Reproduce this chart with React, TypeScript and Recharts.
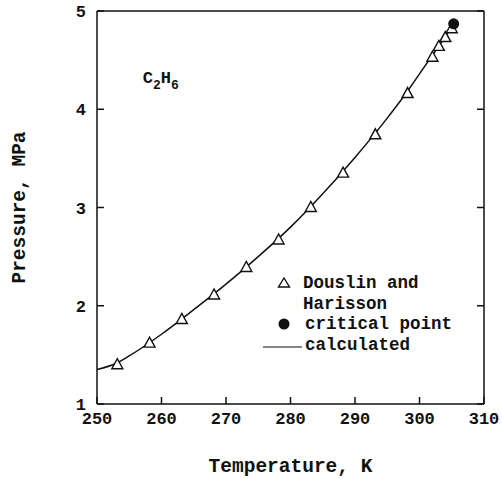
import React from 'react';
import {
  ComposedChart,
  Line,
  Scatter,
  XAxis,
  YAxis,
  Legend,
  ReferenceDot,
} from 'recharts';

const FONT = '"Liberation Mono", "DejaVu Sans Mono", monospace';
const INK = '#111';

// Axis ticks
const temperatureTicks = [250, 260, 270, 280, 290, 300, 310];
const pressureTicks = [1, 2, 3, 4, 5];

// Douslin and Harisson measurements (K, MPa)
const measuredT = [253.15, 258.15, 263.15, 268.15, 273.15, 278.15, 283.15, 288.15, 293.15, 298.15, 302.0, 303.0, 304.0, 305.0];
const measuredP = [1.41, 1.63, 1.87, 2.12, 2.4, 2.68, 3.01, 3.36, 3.75, 4.17, 4.54, 4.65, 4.74, 4.83];

// Critical point of ethane
const criticalT = [305.3];
const criticalP = [4.87];

// Calculated vapour-pressure curve
const calcT = [250, 253.15, 255, 260, 265, 270, 275, 280, 285, 290, 295, 298, 300, 302, 304, 305.3];
const calcP = [1.35, 1.42, 1.49, 1.71, 1.96, 2.22, 2.5, 2.8, 3.14, 3.51, 3.91, 4.17, 4.36, 4.55, 4.74, 4.87];

const measured = measuredT.map((t, i) => ({ t, p: measuredP[i] }));
const critical = criticalT.map((t, i) => ({ t, p: criticalP[i] }));
const calculated = calcT.map((t, i) => ({ t, p: calcP[i] }));

const Triangle = (props: any) => {
  const { cx, cy } = props;
  if (cx == null || cy == null) return <g />;
  const w = 5.5;
  const h = 5;
  return (
    <polygon
      points={`${cx - w},${cy + h} ${cx + w},${cy + h} ${cx},${cy - h}`}
      fill="#fff"
      stroke={INK}
      strokeWidth={1.4}
    />
  );
};

const FilledDot = (props: any) => {
  const { cx, cy } = props;
  if (cx == null || cy == null) return <g />;
  return <circle cx={cx} cy={cy} r={5.5} fill={INK} />;
};

const Formula = (props: any) => {
  const vb = props.viewBox || {};
  const x = vb.x ?? 0;
  const y = vb.y ?? 0;
  return (
    <text x={x} y={y} fontFamily={FONT} fontWeight="bold" fontSize={17} fill={INK}>
      C
      <tspan dy={6} fontSize={13}>2</tspan>
      <tspan dy={-6}>H</tspan>
      <tspan dy={6} fontSize={13}>6</tspan>
    </text>
  );
};

const LegendBox = () => (
  <svg width={240} height={92} style={{ overflow: 'visible' }}>
    <g fontFamily={FONT} fontWeight="bold" fontSize={17.5} fill={INK}>
      <polygon points="23.5,19 34.5,19 29,10" fill="#fff" stroke={INK} strokeWidth={1.4} />
      <text x={48} y={15} dominantBaseline="central">Douslin and</text>
      <text x={48} y={36} dominantBaseline="central">Harisson</text>
      <circle cx={29} cy={56} r={5.5} fill={INK} />
      <text x={50} y={56} dominantBaseline="central">critical point</text>
      <line x1={8} x2={47} y1={79} y2={79} stroke={INK} strokeWidth={1.2} />
      <text x={50} y={77} dominantBaseline="central">calculated</text>
    </g>
  </svg>
);

const tickStyle = { fontFamily: FONT, fontWeight: 'bold', fontSize: 17, fill: INK };
const titleStyle = { fontFamily: FONT, fontWeight: 'bold', fontSize: 19.5, fill: INK };
const NoLabel = () => <g />;

export default function App() {
  return (
    <div style={{ position: 'absolute', left: 0, top: 0, width: 502, height: 479, background: '#fff' }}>
      <ComposedChart
        width={502}
        height={479}
        margin={{ top: 4, right: 11, bottom: 0, left: 0 }}
      >
        <XAxis
          dataKey="t"
          type="number"
          domain={[250, 310]}
          ticks={temperatureTicks}
          allowDataOverflow
          height={75}
          tickSize={-7}
          tickMargin={15}
          tick={tickStyle}
          axisLine={{ stroke: INK, strokeWidth: 1.5 }}
          tickLine={{ stroke: INK, strokeWidth: 1.5 }}
          label={{
            value: 'Temperature, K',
            position: 'insideBottom',
            offset: 7,
            style: titleStyle,
          }}
        />
        <XAxis
          xAxisId="top"
          orientation="top"
          type="number"
          domain={[250, 310]}
          ticks={temperatureTicks}
          allowDataOverflow
          height={7}
          tickSize={-7}
          tick={NoLabel}
          axisLine={{ stroke: INK, strokeWidth: 1.5 }}
          tickLine={{ stroke: INK, strokeWidth: 1.5 }}
        />
        <YAxis
          type="number"
          domain={[1, 5]}
          ticks={pressureTicks}
          allowDataOverflow
          width={97}
          tickSize={-7}
          tickMargin={18}
          tick={tickStyle}
          axisLine={{ stroke: INK, strokeWidth: 1.5 }}
          tickLine={{ stroke: INK, strokeWidth: 1.5 }}
          label={{
            value: 'Pressure, MPa',
            angle: -90,
            position: 'insideLeft',
            offset: 18,
            style: { ...titleStyle, textAnchor: 'middle' },
          }}
        />
        <YAxis
          yAxisId="right"
          orientation="right"
          type="number"
          domain={[1, 5]}
          ticks={pressureTicks}
          allowDataOverflow
          width={7}
          tickSize={-7}
          tick={NoLabel}
          axisLine={{ stroke: INK, strokeWidth: 1.5 }}
          tickLine={{ stroke: INK, strokeWidth: 1.5 }}
        />
        <Line
          data={calculated}
          dataKey="p"
          type="monotone"
          stroke={INK}
          strokeWidth={1.5}
          dot={false}
          activeDot={false}
          isAnimationActive={false}
          legendType="none"
        />
        <Scatter data={measured} dataKey="p" shape={Triangle} isAnimationActive={false} />
        <Scatter data={critical} dataKey="p" shape={FilledDot} isAnimationActive={false} />
        <ReferenceDot x={257.1} y={4.27} r={0} stroke="none" fill="none" label={{ content: Formula }} />
        <Legend
          content={LegendBox}
          layout="horizontal"
          verticalAlign="middle"
          align="center"
          wrapperStyle={{ position: 'absolute', left: 255, top: 268, width: 240, height: 92 }}
        />
      </ComposedChart>
    </div>
  );
}
